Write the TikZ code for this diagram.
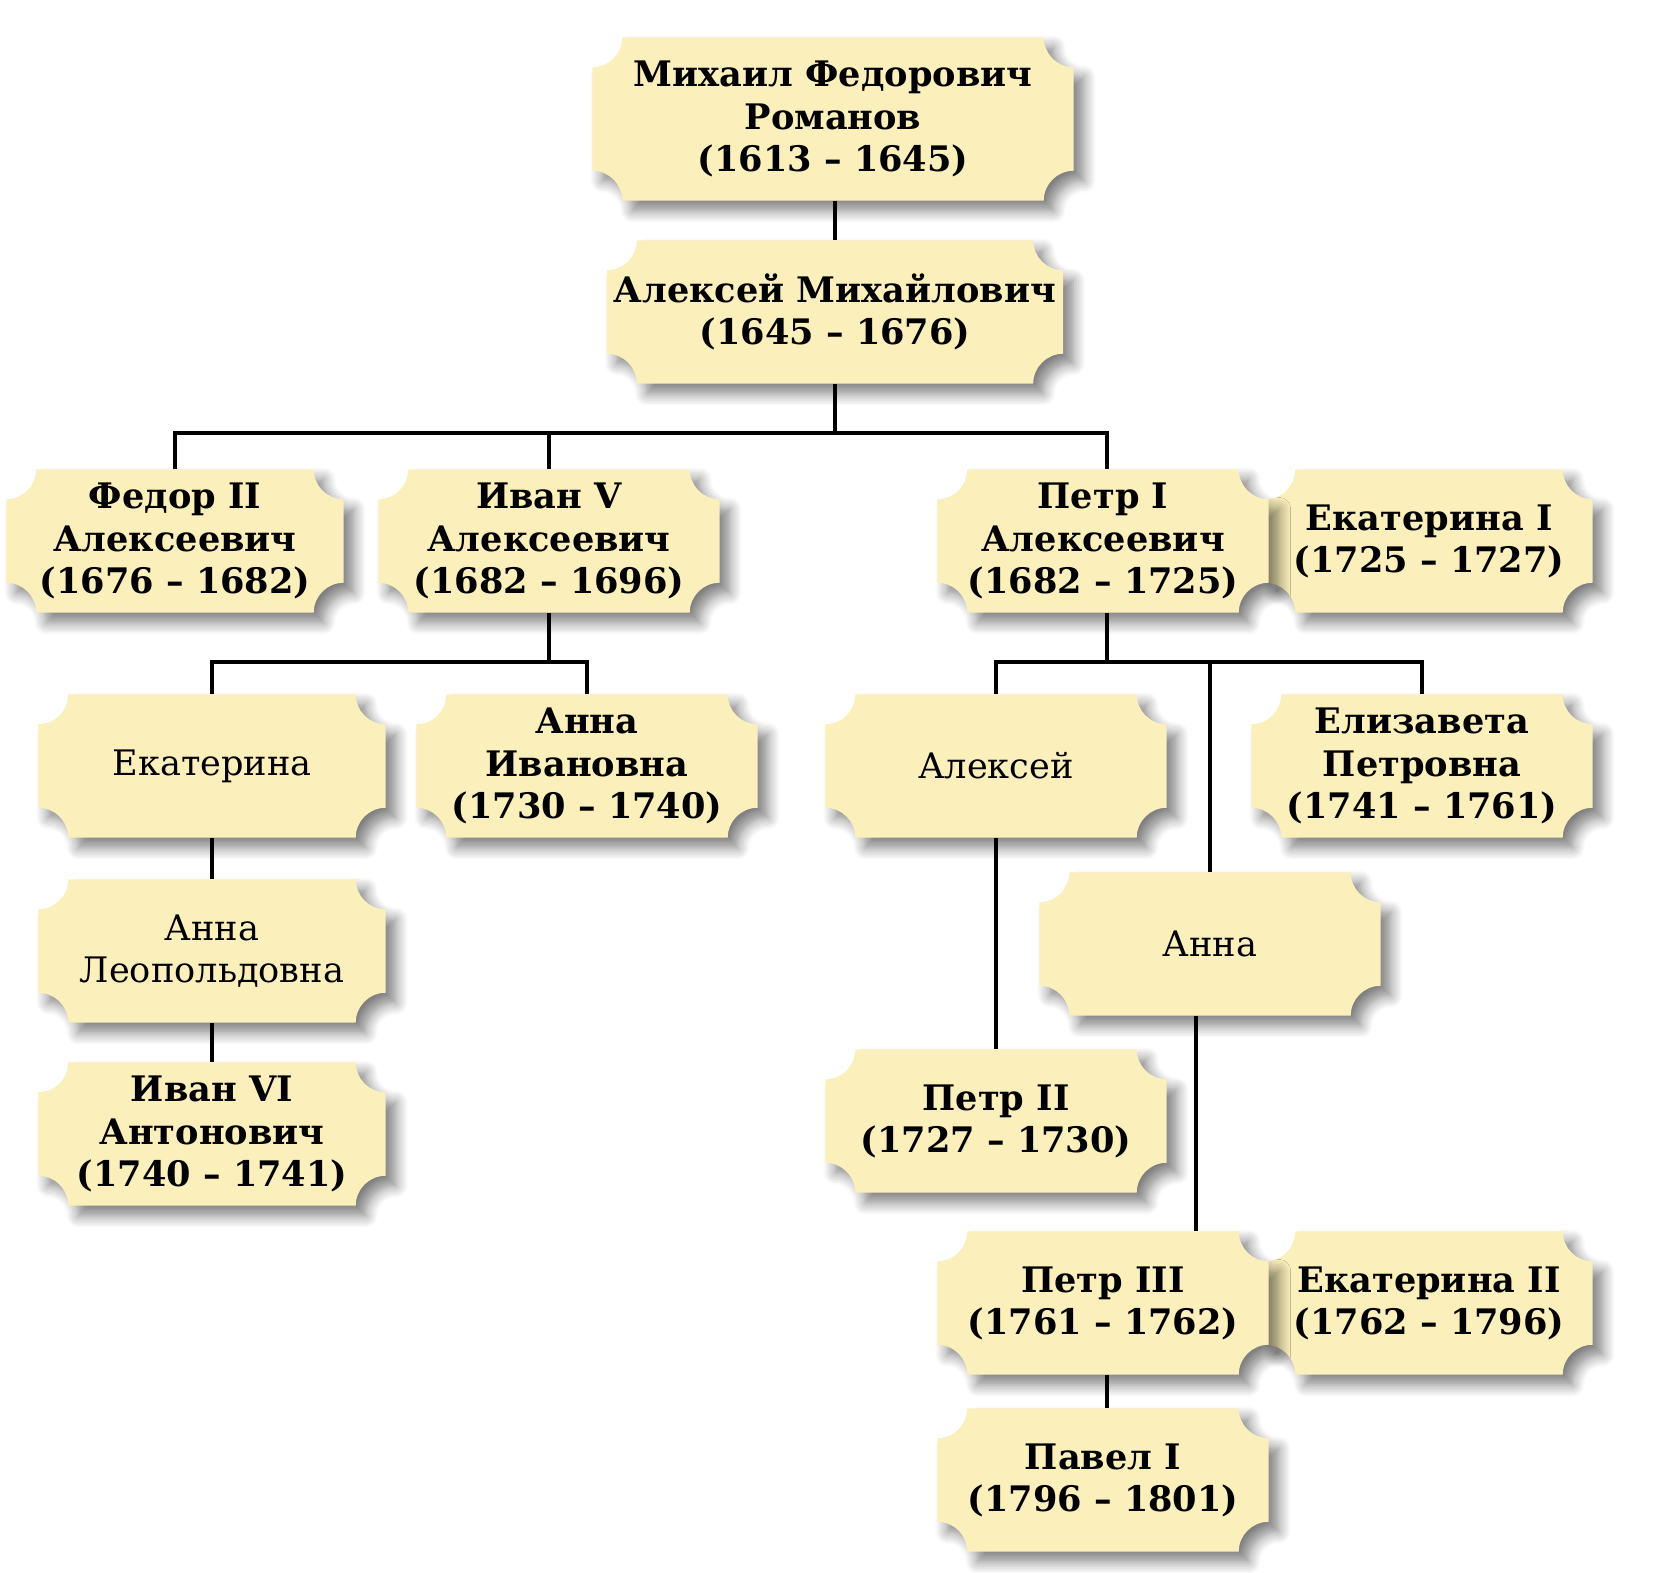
\documentclass[tikz,border=0pt]{standalone}
\usepackage{fontspec}
\setmainfont{DejaVu Serif}
\usepackage{xcolor}
\usetikzlibrary{shadows.blur}

\pgfdeclarelayer{background}
\pgfsetlayers{background,main}

\definecolor{plaquefill}{RGB}{251,239,187}
\newcommand\notchr{0.3cm}
% plaque with hollowed corners behind a named node
\newcommand\plaque[1]{%
  \fill[plaquefill, blur shadow={shadow xshift=0.1cm, shadow yshift=-0.1cm,
      shadow blur radius=0.12cm, shadow blur steps=8, shadow opacity=50}]
    ([xshift=\notchr]#1.south west) -- ([xshift=-\notchr]#1.south east)
    arc[start angle=180, end angle=90, radius=\notchr]
    -- ([yshift=-\notchr]#1.north east)
    arc[start angle=270, end angle=180, radius=\notchr]
    -- ([xshift=\notchr]#1.north west)
    arc[start angle=0, end angle=-90, radius=\notchr]
    -- ([yshift=\notchr]#1.south west)
    arc[start angle=90, end angle=0, radius=\notchr]
    -- cycle;}

\tikzset{
  ruler/.style={align=center, font=\fontsize{10}{12}\selectfont\bfseries,
    inner sep=0pt, minimum width=3.4cm, minimum height=1.42cm},
  kin/.style={ruler, font=\fontsize{10}{12}\selectfont\mdseries},
  link/.style={draw=black, line width=0.9pt},
}

\begin{document}
\begin{tikzpicture}
  \useasboundingbox (0,0) rectangle (16.57,-15.72);

  \node[ruler, minimum width=4.8cm, minimum height=1.62cm] (mikhail) at (8.33,-1.19)
    {Михаил Федорович\\Романов\\(1613 – 1645)};
  \node[ruler, minimum width=4.55cm] (alexeym) at (8.35,-3.12)
    {Алексей Михайлович\\(1645 – 1676)};

  \node[ruler, minimum width=3.36cm] (fedor) at (1.75,-5.41)
    {Федор II\\Алексеевич\\(1676 – 1682)};
  \node[ruler] (ivanv) at (5.49,-5.41) {Иван V\\Алексеевич\\(1682 – 1696)};
  \node[ruler, minimum width=3.26cm] (ekati) at (14.29,-5.41) {Екатерина I\\(1725 – 1727)};
  \node[ruler, minimum width=3.3cm] (petri) at (11.03,-5.41) {Петр I\\Алексеевич\\(1682 – 1725)};

  \node[kin, minimum width=3.46cm] (ekaterina) at (2.12,-7.66) {Екатерина};
  \node[ruler] (annaiv) at (5.87,-7.66) {Анна\\Ивановна\\(1730 – 1740)};
  \node[kin] (alexey) at (9.96,-7.66) {Алексей};
  \node[ruler] (elizaveta) at (14.22,-7.66) {Елизавета\\Петровна\\(1741 – 1761)};

  \node[kin, minimum width=3.46cm] (annaleo) at (2.12,-9.51) {Анна\\Леопольдовна};
  \node[kin] (anna) at (12.10,-9.44) {Анна};

  \node[ruler, minimum width=3.46cm] (ivanvi) at (2.12,-11.34)
    {Иван VI\\Антонович\\(1740 – 1741)};
  \node[ruler] (petrii) at (9.96,-11.21) {Петр II\\(1727 – 1730)};

  \node[ruler, minimum width=3.26cm] (ekatii) at (14.29,-13.03) {Екатерина II\\(1762 – 1796)};
  \node[ruler, minimum width=3.3cm] (petriii) at (11.03,-13.03) {Петр III\\(1761 – 1762)};
  \node[ruler, minimum width=3.3cm] (paveli) at (11.03,-14.80) {Павел I\\(1796 – 1801)};

  \begin{pgfonlayer}{background}
    \foreach \n in {mikhail,alexeym,fedor,ivanv,ekati,petri,ekaterina,annaiv,
        alexey,elizaveta,annaleo,anna,ivanvi,petrii,ekatii,petriii,paveli}
      {\plaque{\n}}
  \end{pgfonlayer}

  % buses
  \coordinate (busa) at (8.35,-4.33);
  \coordinate (busb) at (5.49,-6.62);
  \coordinate (busc) at (11.07,-6.62);
  \coordinate (annadrop) at ([xshift=-1.4mm]anna.south);

  \draw[link] (mikhail.south -| alexeym.north) -- (alexeym.north);
  \draw[link] (alexeym.south) -- (busa);
  \draw[link] (fedor.north) |- (busa) -| ([xshift=0.04cm]petri.north);
  \draw[link] (ivanv.north) -- (ivanv.north |- busa);

  \draw[link] (ivanv.south) -- (busb);
  \draw[link] (ekaterina.north) |- (busb) -| (annaiv.north);

  \draw[link] (busc |- petri.south) -- (busc);
  \draw[link] (alexey.north) |- (busc) -| (elizaveta.north);
  \draw[link] (anna.north) -- (anna.north |- busc);

  \draw[link] (ekaterina) -- (annaleo);
  \draw[link] (annaleo) -- (ivanvi);
  \draw[link] (alexey) -- (petrii);
  \draw[link] (annadrop) -- (annadrop |- petriii.north);
  \draw[link] (busc |- petriii.south) -- (busc |- paveli.north);
\end{tikzpicture}
\end{document}
